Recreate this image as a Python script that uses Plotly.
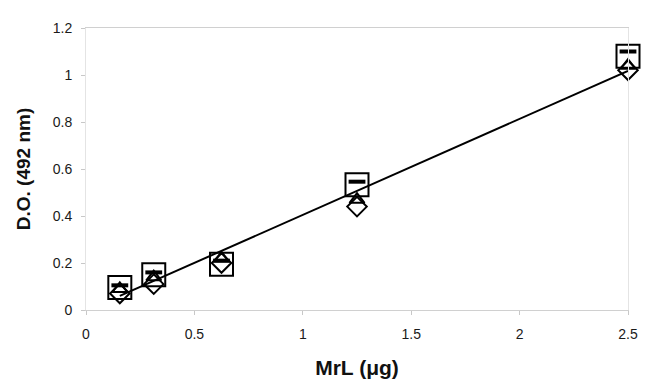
import numpy as np
import plotly.graph_objects as go

# Data
mrl_ug = [0.156, 0.3125, 0.625, 1.25, 2.5]
do_square = [0.096, 0.15, 0.195, 0.533, 1.08]
do_dash = [0.105, 0.16, 0.21, 0.546, 1.10]
do_triangle = [0.09, 0.14, 0.22, 0.47, 1.04]
do_diamond = [0.07, 0.11, 0.20, 0.44, 1.02]

x_ticks = [0, 0.5, 1, 1.5, 2, 2.5]
y_ticks = [0, 0.2, 0.4, 0.6, 0.8, 1, 1.2]

# Linear trendline fitted to the triangle series
slope, intercept = np.polyfit(mrl_ug, do_triangle, 1)
fit_x = [min(mrl_ug), max(mrl_ug)]
fit_y = [slope * v + intercept for v in fit_x]

fig = go.Figure()

fig.add_trace(go.Scatter(
    x=mrl_ug, y=do_square, mode="markers", cliponaxis=False,
    marker=dict(symbol="square", size=23, color="white",
                line=dict(color="black", width=2)),
    showlegend=False))
fig.add_trace(go.Scatter(
    x=fit_x, y=fit_y, mode="lines", cliponaxis=False,
    line=dict(color="black", width=2), showlegend=False))
fig.add_trace(go.Scatter(
    x=mrl_ug, y=do_triangle, mode="markers", cliponaxis=False,
    marker=dict(symbol="triangle-up", size=13, color="rgba(255,255,255,0)",
                line=dict(color="black", width=2)),
    showlegend=False))
fig.add_trace(go.Scatter(
    x=mrl_ug, y=do_diamond, mode="markers", cliponaxis=False,
    marker=dict(symbol="diamond", size=15, color="rgba(255,255,255,0)",
                line=dict(color="black", width=2)),
    showlegend=False))
fig.add_trace(go.Scatter(
    x=mrl_ug, y=do_dash, mode="markers", cliponaxis=False,
    marker=dict(symbol="line-ew", size=12,
                line=dict(color="black", width=4)),
    showlegend=False))

# page body has an 8px default margin, so the figure is sized to fit inside it
fig.update_layout(
    width=642, height=380,
    margin=dict(l=78, r=17, t=14, b=78),
    paper_bgcolor="white", plot_bgcolor="white",
    font=dict(family="Liberation Sans, Arial, sans-serif", color="#1a1a1a", size=14),
)
fig.update_xaxes(
    range=[0, 2.5], tickvals=x_ticks, ticktext=[str(t) for t in x_ticks],
    showgrid=False, zeroline=False,
    showline=True, linecolor="#d0d0d0", linewidth=1, mirror=True,
    ticks="outside", ticklen=4, tickcolor="#c8c8c8",
    ticklabelstandoff=7,
    title=dict(text="<b>MrL (μg)</b>", font=dict(size=21, color="#111"), standoff=19),
)
fig.update_yaxes(
    range=[0, 1.2], tickvals=y_ticks, ticktext=[str(t) for t in y_ticks],
    showgrid=False, zeroline=False,
    showline=True, linecolor="#e4e4e4", linewidth=1, mirror=True,
    ticks="outside", ticklen=4, tickcolor="#c8c8c8",
    ticklabelstandoff=6,
    title=dict(text="<b>D.O. (492 nm)</b>", font=dict(size=19, color="#111"), standoff=17),
)

fig.write_html("out.html")
